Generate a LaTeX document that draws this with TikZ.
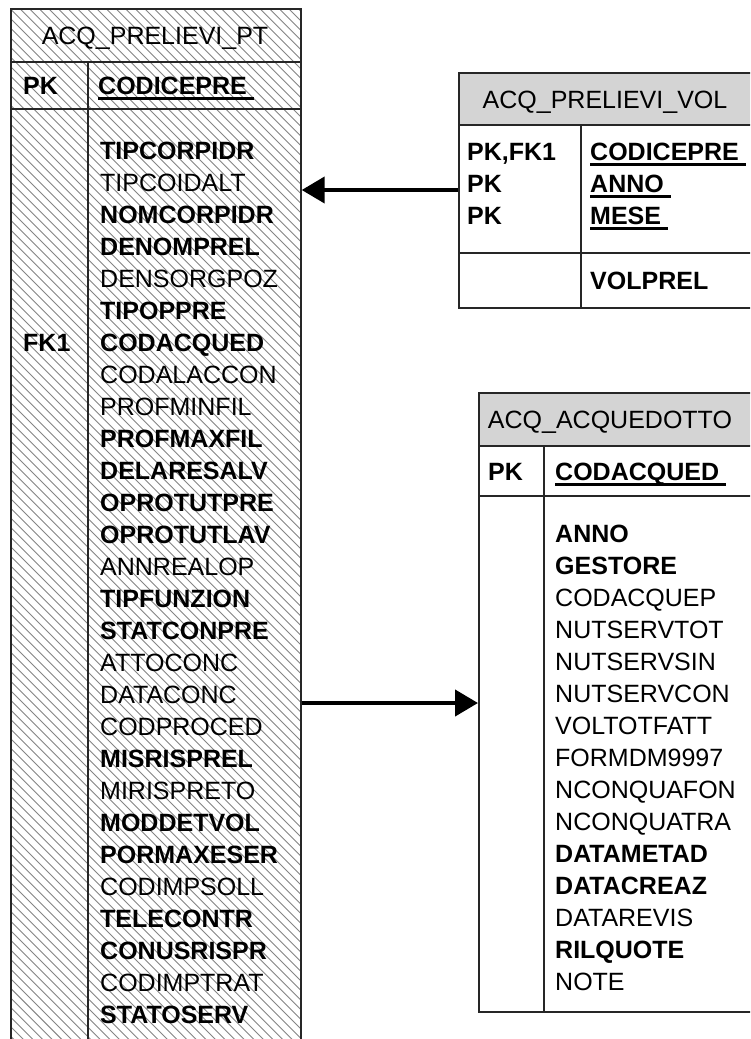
\documentclass[tikz,border=0pt]{standalone}
\usepackage{fontspec}
\setmainfont{Liberation Sans}
\usetikzlibrary{arrows.meta}
\newcommand\ulin[1]{\setbox0\hbox{#1\ }\rlap{\rule[-6pt]{\wd0}{2.6pt}}#1}
\begin{document}
\begin{tikzpicture}[x=1pt,y=-1pt,
  box/.style={draw=black!85, line width=1.7pt, inner sep=0pt, anchor=north west},
  sep/.style={draw=black!85, line width=1.7pt},
  hatchline/.style={draw=black!48, line width=0.9pt},
  ttl/.style={font=\fontsize{25}{30}\selectfont, inner sep=0pt, anchor=base},
  fb/.style={font=\fontsize{25}{30}\selectfont\bfseries, inner sep=0pt, anchor=base west},
  fr/.style={font=\fontsize{25}{30}\selectfont, inner sep=0pt, anchor=base west},
  arr/.style={line width=4.2pt, -{Triangle[length=23pt,width=26pt]}}
]
\fill[white] (0,0) rectangle (750,1039);
\useasboundingbox (0,0) rectangle (750,1039);
\clip (0,0) rectangle (750,1039);

% ---------- ACQ_PRELIEVI_PT ----------
\begin{scope}
  \clip (10,8) rectangle (300,1068);
  \foreach \k in {-110,...,31}
    \draw[hatchline] ({9.6*\k},8) -- ({9.6*\k+1100},1108);
\end{scope}
\node[box, minimum width=290pt, minimum height=1060pt] (pt) at (10,8) {};
\draw[sep] (10,62) -- (300,62);
\draw[sep] (10,109) -- (300,109);
\draw[sep] (88,62) -- (88,1068);
\node[ttl] (ptT) at (155,44) {ACQ\_PRELIEVI\_PT};
\node[fb] (ptPK) at (23,94) {PK};
\node[fb] (ptKey) at (98,94) {\ulin{CODICEPRE}};
\node[fb] (ptFK) at (23,351) {FK1};
\foreach \t/\s [count=\i] in {TIPCORPIDR/fb, TIPCOIDALT/fr, NOMCORPIDR/fb, DENOMPREL/fb, DENSORGPOZ/fr, TIPOPPRE/fb, CODACQUED/fb, CODALACCON/fr, PROFMINFIL/fr, PROFMAXFIL/fb, DELARESALV/fb, OPROTUTPRE/fb, OPROTUTLAV/fb, ANNREALOP/fr, TIPFUNZION/fb, STATCONPRE/fb, ATTOCONC/fr, DATACONC/fr, CODPROCED/fr, MISRISPREL/fb, MIRISPRETO/fr, MODDETVOL/fb, PORMAXESER/fb, CODIMPSOLL/fr, TELECONTR/fb, CONUSRISPR/fb, CODIMPTRAT/fr, STATOSERV/fb}
  \node[\s] (ptf\i) at (100,{159+32*(\i-1)}) {\t};

% ---------- ACQ_PRELIEVI_VOL ----------
\fill[black!17] (458,72) rectangle (770,125);
\node[box, minimum width=302pt, minimum height=235pt] (vol) at (458,72) {};
\draw[sep] (458,125) -- (770,125);
\draw[sep] (458,253) -- (770,253);
\draw[sep] (581,125) -- (581,307);
\node[ttl] (volT) at (605,108) {ACQ\_PRELIEVI\_VOL};
\node[fb] (volK1) at (467,160) {PK,FK1};
\node[fb] (volK2) at (467,192) {PK};
\node[fb] (volK3) at (467,224) {PK};
\node[fb] (volF1) at (590,160) {\ulin{CODICEPRE}};
\node[fb] (volF2) at (590,192) {\ulin{ANNO}};
\node[fb] (volF3) at (590,224) {\ulin{MESE}};
\node[fb] (volF4) at (590,289) {VOLPREL};

% ---------- ACQ_ACQUEDOTTO ----------
\fill[black!17] (478,392) rectangle (780,446);
\node[box, minimum width=292pt, minimum height=619pt] (acq) at (478,392) {};
\draw[sep] (478,446) -- (780,446);
\draw[sep] (478,496) -- (780,496);
\draw[sep] (544,446) -- (544,1011);
\node[ttl] (acqT) at (610,428) {ACQ\_ACQUEDOTTO};
\node[fb] (acqPK) at (488,480) {PK};
\node[fb] (acqKey) at (555,480) {\ulin{CODACQUED}};
\foreach \t/\s [count=\i] in {ANNO/fb, GESTORE/fb, CODACQUEP/fr, NUTSERVTOT/fr, NUTSERVSIN/fr, NUTSERVCON/fr, VOLTOTFATT/fr, FORMDM9997/fr, NCONQUAFON/fr, NCONQUATRA/fr, DATAMETAD/fb, DATACREAZ/fb, DATAREVIS/fr, RILQUOTE/fb, NOTE/fr}
  \node[\s] (acqf\i) at (555,{542+32*(\i-1)}) {\t};

% ---------- connectors ----------
\coordinate (a1s) at (vol.west |- 0,190);
\coordinate (a1e) at (pt.east |- 0,190);
\draw[arr] (a1s) -- (a1e);
\coordinate (a2s) at (pt.east |- 0,703);
\coordinate (a2e) at (acq.west |- 0,703);
\draw[arr] (a2s) -- (a2e);
\end{tikzpicture}
\end{document}
